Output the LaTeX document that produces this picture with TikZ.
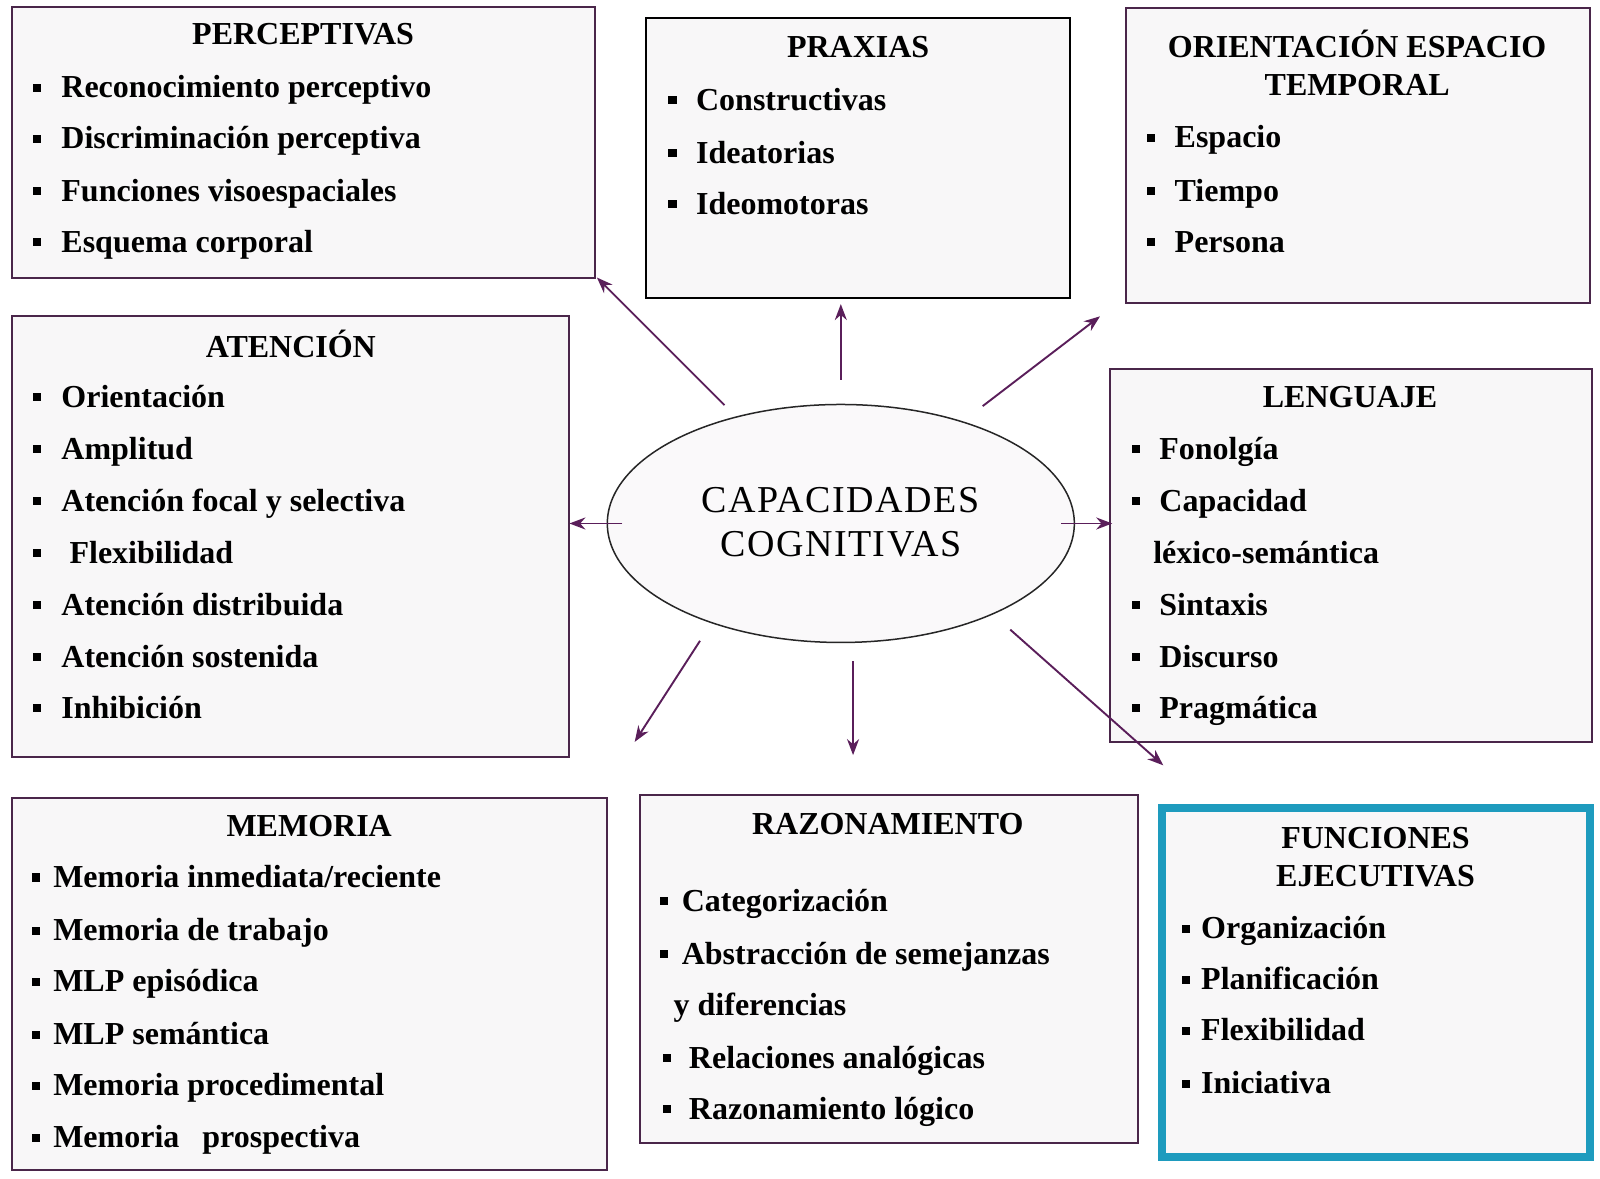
\documentclass[tikz,border=0pt]{standalone}
\usepackage{fontspec}
\setmainfont{Liberation Serif}
\usetikzlibrary{shapes.geometric,arrows.meta,fit}
\definecolor{boxc}{HTML}{4A264A}
\definecolor{boxfill}{HTML}{F8F7F8}
\definecolor{arrc}{HTML}{5A1E5A}
\definecolor{tealc}{HTML}{1E9BBE}
\newcommand{\itm}[5]{%
  \node[itemtxt] (#1) at (#3,#4) {#5};
  \fill ({#2},{#4-6}) rectangle ({#2+8},{#4-14});}
\newcommand{\txt}[4]{\node[itemtxt] (#1) at (#2,#3) {#4};}
\begin{document}
\begin{tikzpicture}[x=1.0204pt,y=-1.0204pt,
  box/.style={draw=boxc, line width=2pt, fill=boxfill, inner sep=0pt},
  hd/.style={anchor=base, inner sep=0pt, font=\bfseries\fontsize{32}{38}\selectfont},
  itemtxt/.style={anchor=base west, inner sep=0pt, font=\bfseries\fontsize{32}{38}\selectfont},
  arr/.style={draw=arrc, line width=1.9pt, -{Stealth[length=16pt,width=12pt]}}]
\useasboundingbox[fill=white] (0,0) rectangle (1568,1155.4);

% boxes
\node[box, fit={(12,7) (583,272)}] (perc) {};
\node[box, draw=black, fit={(633,18) (1049,292)}] (prax) {};
\node[box, fit={(1103,8) (1558,297)}] (orient) {};
\node[box, fit={(12,310) (558,742)}] (aten) {};
\node[box, fit={(1088,362) (1560,727)}] (leng) {};
\node[box, fit={(12,782) (595,1147)}] (mem) {};
\node[box, fit={(627,779) (1115,1120)}] (raz) {};
\node[box, draw=tealc, line width=8pt, fit={(1139,792) (1558,1134)}] (func) {};

% central ellipse
\node[ellipse, draw=black!85, line width=1.5pt, fill=boxfill!70!white,
      minimum width=467pt, minimum height=238pt, inner sep=0pt] (cc) at (824,513) {};
\node[anchor=base, inner sep=0pt, font=\fontsize{38}{45}\selectfont\addfontfeature{LetterSpace=4}] (cc1) at (824,502) {CAPACIDADES};
\node[anchor=base, inner sep=0pt, font=\fontsize{38}{45}\selectfont\addfontfeature{LetterSpace=4}] (cc2) at (824,545) {COGNITIVAS};

% PERCEPTIVAS
\node[hd] (percT) at (297,44) {PERCEPTIVAS};
\itm{p1}{32}{60}{96}{Reconocimiento perceptivo}
\itm{p2}{32}{60}{146}{Discriminación perceptiva}
\itm{p3}{32}{60}{197}{Funciones visoespaciales}
\itm{p4}{32}{60}{247}{Esquema corporal}

% PRAXIAS
\node[hd] (praxT) at (841,56) {PRAXIAS};
\itm{x1}{655}{682}{108}{Constructivas}
\itm{x2}{655}{682}{160}{Ideatorias}
\itm{x3}{655}{682}{210}{Ideomotoras}

% ORIENTACION
\node[hd] (orT1) at (1330,56) {ORIENTACIÓN ESPACIO};
\node[hd] (orT2) at (1330,94) {TEMPORAL};
\itm{o1}{1124}{1151}{145}{Espacio}
\itm{o2}{1124}{1151}{197}{Tiempo}
\itm{o3}{1124}{1151}{247}{Persona}

% ATENCION
\node[hd] (atT) at (285,350) {ATENCIÓN};
\itm{a1}{32}{60}{399}{Orientación}
\itm{a2}{32}{60}{450}{Amplitud}
\itm{a3}{32}{60}{501}{Atención focal y selectiva}
\itm{a4}{32}{68}{552}{Flexibilidad}
\itm{a5}{32}{60}{603}{Atención distribuida}
\itm{a6}{32}{60}{654}{Atención sostenida}
\itm{a7}{32}{60}{704}{Inhibición}

% LENGUAJE
\node[hd] (leT) at (1323,399) {LENGUAJE};
\itm{l1}{1109}{1136}{450}{Fonolgía}
\itm{l2}{1109}{1136}{501}{Capacidad}
\txt{l3}{1130}{552}{léxico-semántica}
\itm{l4}{1109}{1136}{603}{Sintaxis}
\itm{l5}{1109}{1136}{654}{Discurso}
\itm{l6}{1109}{1136}{704}{Pragmática}

% MEMORIA
\node[hd] (meT) at (303,820) {MEMORIA};
\itm{m1}{31}{52}{870}{Memoria inmediata/reciente}
\itm{m2}{31}{52}{922}{Memoria de trabajo}
\itm{m3}{31}{52}{972}{MLP episódica}
\itm{m4}{31}{52}{1024}{MLP semántica}
\itm{m5}{31}{52}{1074}{Memoria procedimental}
\itm{m6}{31}{52}{1125}{Memoria\hspace{23pt}prospectiva}

% RAZONAMIENTO
\node[hd] (raT) at (870,818) {RAZONAMIENTO};
\itm{r1}{647}{668}{893}{Categorización}
\itm{r2}{647}{668}{945}{Abstracción de semejanzas}
\txt{r3}{660}{995}{y diferencias}
\itm{r4}{650}{675}{1047}{Relaciones analógicas}
\itm{r5}{650}{675}{1097}{Razonamiento lógico}

% FUNCIONES EJECUTIVAS
\node[hd] (fuT1) at (1348,832) {FUNCIONES};
\node[hd] (fuT2) at (1348,869) {EJECUTIVAS};
\itm{f1}{1158}{1177}{920}{Organización}
\itm{f2}{1158}{1177}{970}{Planificación}
\itm{f3}{1158}{1177}{1020}{Flexibilidad}
\itm{f4}{1158}{1177}{1072}{Iniciativa}

% arrow end points
\coordinate (s1) at (710,397);  \coordinate (e1) at (585,272);
\coordinate (s2) at (824,372);  \coordinate (e2) at (824,298);
\coordinate (s3) at (963,398);  \coordinate (e3) at (1078,310);
\coordinate (s4) at (610,513);  \coordinate (e4) at (558,513);
\coordinate (s5) at (1040,513); \coordinate (e5) at (1090,513);
\coordinate (s6) at (686,628);  \coordinate (e6) at (622,727);
\coordinate (s7) at (836,648);  \coordinate (e7) at (836,740);
\coordinate (s8) at (990,617);  \coordinate (e8) at (1140,750);
\foreach \i in {1,...,8} {\draw[arr] (s\i) -- (e\i);}
\end{tikzpicture}
\end{document}
